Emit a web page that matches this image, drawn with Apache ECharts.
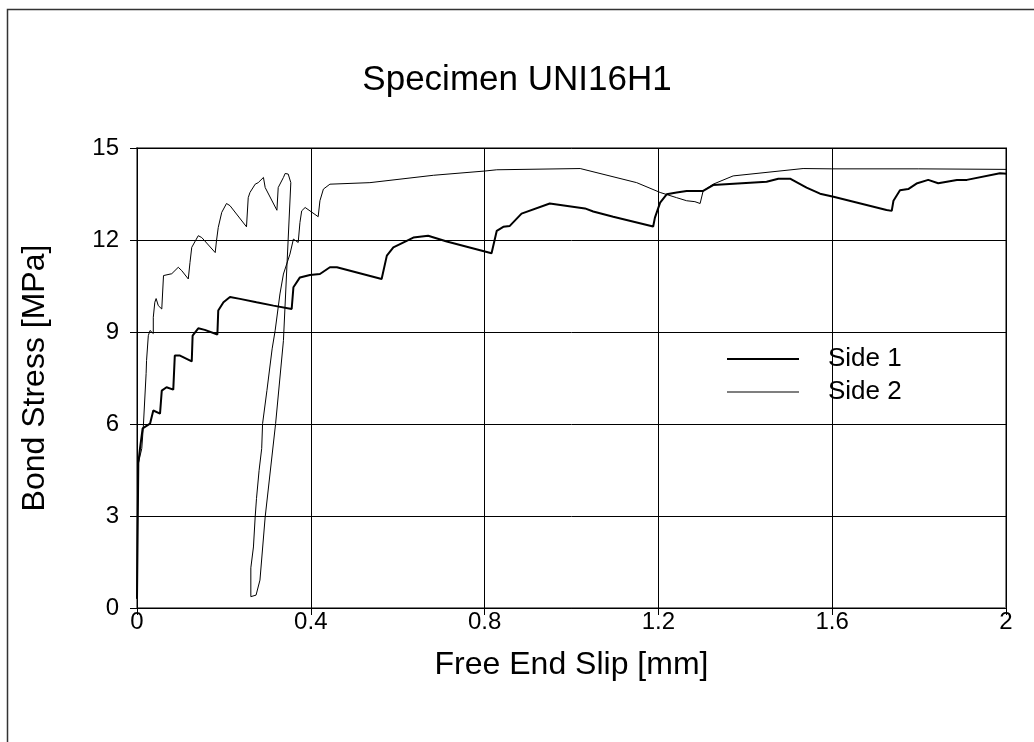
<!DOCTYPE html>
<html>
<head>
<meta charset="utf-8">
<script src="https://cdn.jsdelivr.net/npm/echarts@6/dist/echarts.min.js"></script>
<style>html,body{margin:0;padding:0;background:#fff}#c{width:1034px;height:742px}</style>
</head>
<body>
<div id="c"></div>
<script>
const titleText = 'Specimen UNI16H1';
const xTicks = [0, 0.4, 0.8, 1.2, 1.6, 2];
const yTicks = [0, 3, 6, 9, 12, 15];

const side1Slip = [0,0.003,0.007,0.013,0.030,0.0375,0.053,0.057,0.068,0.0835,0.087,0.099,0.126,0.128,0.141,0.156,0.185,0.187,0.199,0.214,0.237,0.275,0.314,0.356,0.360,0.375,0.398,0.421,0.444,0.460,0.563,0.575,0.590,0.636,0.670,0.713,0.816,0.828,0.843,0.858,0.885,0.950,1.031,1.050,1.096,1.188,1.192,1.204,1.219,1.242,1.265,1.303,1.326,1.449,1.476,1.503,1.541,1.572,1.603,1.725,1.737,1.741,1.756,1.775,1.794,1.821,1.844,1.887,1.910,1.986,2.028];
const side1Stress = [0.3,4.72,5.21,5.86,6.01,6.44,6.34,7.09,7.20,7.12,8.23,8.23,8.04,8.88,9.12,9.07,8.92,9.70,9.97,10.14,10.08,9.97,9.86,9.75,10.46,10.78,10.86,10.89,11.11,11.11,10.73,11.49,11.76,12.08,12.14,11.95,11.57,12.30,12.43,12.46,12.86,13.19,13.03,12.93,12.76,12.44,12.73,13.22,13.49,13.55,13.60,13.60,13.79,13.90,14.00,14.00,13.71,13.51,13.41,12.98,12.95,13.28,13.62,13.66,13.84,13.96,13.85,13.96,13.96,14.18,14.12];

const side2Slip = [0,0.001,0.003,0.011,0.0145,0.021,0.022,0.026,0.026,0.030,0.034,0.0375,0.0375,0.041,0.044,0.049,0.057,0.061,0.064,0.080,0.095,0.103,0.118,0.122,0.126,0.141,0.149,0.180,0.183,0.187,0.195,0.206,0.214,0.252,0.256,0.260,0.272,0.279,0.291,0.295,0.322,0.325,0.337,0.341,0.348,0.354,0.337,0.319,0.295,0.283,0.274,0.262,0.262,0.268,0.272,0.275,0.281,0.287,0.289,0.299,0.311,0.318,0.329,0.337,0.352,0.360,0.371,0.375,0.379,0.387,0.417,0.421,0.429,0.444,0.536,0.682,0.801,0.828,1.020,1.150,1.204,1.242,1.265,1.284,1.296,1.303,1.326,1.372,1.533,1.599,1.798,2.028];
const side2Stress = [0.3,2.86,4.72,5.20,5.90,7.65,8.07,8.05,8.88,9.05,9.05,8.95,9.48,9.97,10.09,9.86,9.75,10.84,10.90,10.90,11.11,11.00,10.73,11.27,11.76,12.14,12.08,11.59,11.98,12.41,12.90,13.19,13.12,12.43,13.38,13.55,13.82,13.87,14.04,13.71,12.97,13.71,14.04,14.17,14.15,13.87,8.72,6.01,2.97,0.91,0.42,0.37,1.31,1.99,2.97,3.57,4.49,5.20,6.01,7.09,8.45,9.05,10.24,10.89,11.54,12.03,11.92,12.57,12.95,13.06,12.76,13.28,13.66,13.82,13.87,14.11,14.25,14.29,14.33,13.87,13.55,13.38,13.28,13.25,13.19,13.60,13.82,14.09,14.33,14.32,14.32,14.30];

const pairs = (xs, ys) => xs.map((x, i) => [x, ys[i]]);
const font = 'Liberation Sans, Arial, sans-serif';

const chart = echarts.init(document.getElementById('c'), null, {renderer: 'canvas'});
chart.setOption({
  animation: false,
  backgroundColor: '#fff',
  title: {
    text: titleText, left: 'center', top: 58,
    textStyle: {fontFamily: font, fontSize: 35, fontWeight: 'normal', color: '#000'}
  },
  graphic: [{
    type: 'rect', silent: true,
    shape: {x: 7.5, y: 9.5, width: 1200, height: 900},
    style: {fill: 'none', stroke: '#333', lineWidth: 1.5}
  }],
  grid: {left: 137, top: 148, right: 28, bottom: 134, show: true, borderColor: '#808080', borderWidth: 2, backgroundColor: 'transparent'},
  legend: {
    orient: 'vertical', left: 722, top: 341, itemWidth: 72, itemHeight: 14, itemGap: 7,
    textStyle: {fontFamily: font, fontSize: 26, color: '#000', padding: [0, 0, 0, 24]},
    data: [{name: 'Side 1', icon: 'path://M0,0 L72,0 L72,2 L0,2 Z'}, {name: 'Side 2', icon: 'path://M0,0 L72,0 L72,1.2 L0,1.2 Z'}],
    itemStyle: {color: '#000'}
  },
  xAxis: {
    type: 'value', min: xTicks[0], max: xTicks[xTicks.length - 1], interval: 0.4,
    name: 'Free End Slip [mm]', nameLocation: 'middle', nameGap: 41,
    nameTextStyle: {fontFamily: font, fontSize: 32, color: '#000'},
    axisLine: {show: true, lineStyle: {color: '#000', width: 1}},
    axisTick: {show: true, inside: false, length: 7, lineStyle: {color: '#000'}},
    axisLabel: {fontFamily: font, fontSize: 24, color: '#000', margin: 2, formatter: v => String(+v.toFixed(1))},
    splitLine: {show: true, lineStyle: {color: '#000', width: 1}}
  },
  yAxis: {
    type: 'value', min: yTicks[0], max: yTicks[yTicks.length - 1], interval: 3,
    name: 'Bond Stress [MPa]', nameLocation: 'middle', nameGap: 86, nameRotate: 90,
    nameTextStyle: {fontFamily: font, fontSize: 32, color: '#000'},
    axisLine: {show: true, lineStyle: {color: '#000', width: 1}},
    axisTick: {show: true, inside: false, length: 7, lineStyle: {color: '#000'}},
    axisLabel: {fontFamily: font, fontSize: 24, color: '#000', margin: 18},
    splitLine: {show: true, lineStyle: {color: '#000', width: 1}}
  },
  series: [
    {name: 'Side 1', type: 'line', data: pairs(side1Slip, side1Stress), symbol: 'none', clip: false,
     lineStyle: {color: '#000', width: 2}, itemStyle: {color: '#000'}},
    {name: 'Side 2', type: 'line', data: pairs(side2Slip, side2Stress), symbol: 'none', clip: false,
     lineStyle: {color: '#000', width: 1}, itemStyle: {color: '#000'}}
  ]
});
</script>
</body>
</html>
